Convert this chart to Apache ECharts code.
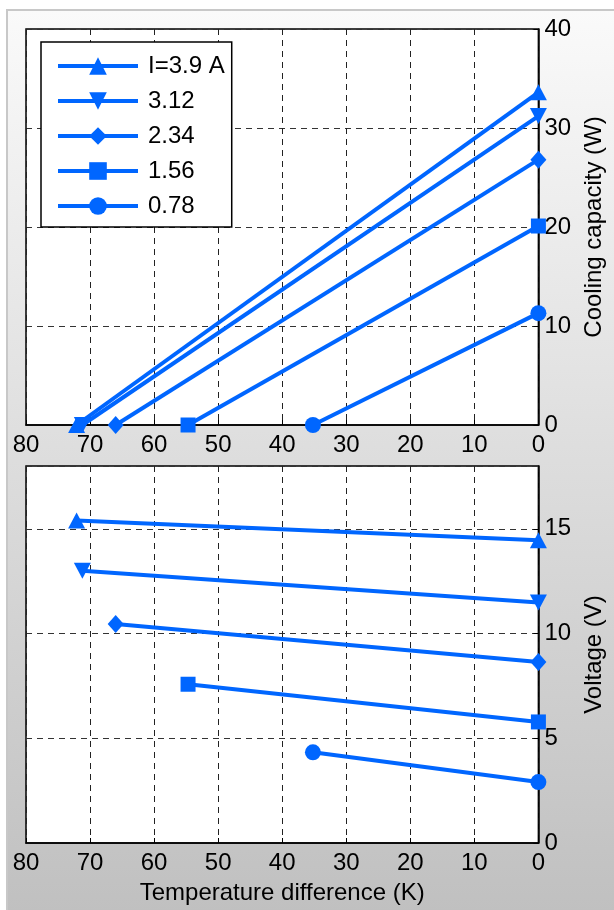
<!DOCTYPE html>
<html>
<head>
<meta charset="utf-8">
<script src="https://cdn.jsdelivr.net/npm/echarts@6/dist/echarts.min.js"></script>
<style>
  html, body { margin: 0; padding: 0; width: 614px; height: 910px; overflow: hidden; background: #ffffff; }
  #bg { position: absolute; left: 6px; top: 9px; width: 700px; height: 1000px;
        border-left: 2px solid #c8c8c8; border-top: 2px solid #c8c8c8;
        background: linear-gradient(to bottom, #fafafa 0px, #c0c0c0 901px, #c0c0c0 1000px); }
  #chart { position: absolute; left: 0; top: 0; width: 614px; height: 910px; }
</style>
</head>
<body>
<div id="bg"></div>
<div id="chart"></div>
<script>
// ---- data ----
const currents = ['I=3.9 A', '3.12', '2.34', '1.56', '0.78'];
const symbols = ['triangle', 'triangle', 'diamond', 'rect', 'circle'];
const symbolRotations = [0, 180, 0, 0, 0];
// temperature difference (K) at the zero-capacity end, and at the other end (0 K)
const dtAtZeroCapacity = [72.1, 71.2, 66.0, 54.7, 35.2];
const dtAtFullCapacity = [0, 0, 0, 0, 0];
// cooling capacity (W)
const coolingAtMaxDt = [0, 0, 0, 0, 0];
const coolingAtZeroDt = [33.6, 31.2, 26.8, 20.1, 11.3];
// voltage (V)
const voltageAtMaxDt = [15.4, 13.0, 10.46, 7.58, 4.33];
const voltageAtZeroDt = [14.45, 11.48, 8.64, 5.78, 2.91];
// axis ticks
const xTicks = { min: 0, max: 80, interval: 10 };
const coolTicks = { min: 0, max: 40, interval: 10 };
const voltTicks = { min: 0, max: 18, interval: 5 };

const BLUE = '#0066ff';
const FONT = "'Liberation Sans', Arial, sans-serif";
const FS = 24;

const symbolSizes = { triangle: [17, 16], diamond: [16, 18], rect: [15, 15], circle: [16, 16] };

function xAxisDef(gridIndex, withName) {
  return {
    type: 'value', gridIndex: gridIndex, inverse: true,
    min: xTicks.min, max: xTicks.max, interval: xTicks.interval,
    position: 'bottom',
    axisLine: { show: true, onZero: false, lineStyle: { color: '#000', width: 1.5 } },
    axisTick: { show: true, inside: true, length: 5, lineStyle: { color: '#000' } },
    axisLabel: { color: '#000', fontSize: FS, fontFamily: FONT, margin: 8 },
    splitLine: { show: true, lineStyle: { color: '#222', type: [6, 5], width: 1 } },
    name: withName ? 'Temperature difference (K)' : '',
    nameLocation: 'middle', nameGap: 38,
    nameTextStyle: { color: '#000', fontSize: FS, fontFamily: FONT }
  };
}
function yAxisDef(gridIndex, t, name, showMax) {
  return {
    type: 'value', gridIndex: gridIndex, position: 'right',
    min: t.min, max: t.max, interval: t.interval,
    axisLine: { show: true, onZero: false, lineStyle: { color: '#000', width: 1.5 } },
    axisTick: { show: true, inside: true, length: 5, lineStyle: { color: '#000' } },
    axisLabel: { color: '#000', fontSize: FS, fontFamily: FONT, margin: 6, showMaxLabel: showMax },
    splitLine: { show: true, lineStyle: { color: '#333', type: [6, 5], width: 1 } },
    name: name, nameLocation: 'middle', nameRotate: 90, nameGap: 42,
    nameTextStyle: { color: '#000', fontSize: FS, fontFamily: FONT }
  };
}

const series = [];
currents.forEach(function (c, i) {
  const sym = symbols[i];
  const common = {
    name: c, type: 'line', symbol: sym, symbolSize: symbolSizes[sym],
    symbolRotate: symbolRotations[i], showAllSymbol: true, clip: false,
    lineStyle: { color: BLUE, width: 4 }, itemStyle: { color: BLUE },
    emphasis: { disabled: true }, animation: false
  };
  series.push(Object.assign({}, common, {
    xAxisIndex: 0, yAxisIndex: 0,
    data: [[dtAtZeroCapacity[i], coolingAtMaxDt[i]], [dtAtFullCapacity[i], coolingAtZeroDt[i]]]
  }));
  series.push(Object.assign({}, common, {
    xAxisIndex: 1, yAxisIndex: 1,
    data: [[dtAtZeroCapacity[i], voltageAtMaxDt[i]], [dtAtFullCapacity[i], voltageAtZeroDt[i]]]
  }));
});

const chart = echarts.init(document.getElementById('chart'), null, { renderer: 'canvas' });
chart.setOption({
  backgroundColor: 'transparent',
  animation: false,
  grid: [
    { left: 26, right: 63, top: 29, height: 396, show: true, backgroundColor: '#fff', borderColor: '#000', borderWidth: 1.5 },
    { left: 26, right: 63, top: 466, height: 377, show: true, backgroundColor: '#fff', borderColor: '#000', borderWidth: 1.5 }
  ],
  xAxis: [xAxisDef(0, false), xAxisDef(1, true)],
  yAxis: [yAxisDef(0, coolTicks, 'Cooling capacity (W)', true), yAxisDef(1, voltTicks, 'Voltage (V)', false)],
  legend: {
    data: currents, orient: 'vertical', left: 41, top: 42,
    itemWidth: 80, itemHeight: 22, itemGap: 11,
    padding: [12, 7, 9, 15],
    backgroundColor: '#fff', borderColor: '#000', borderWidth: 1.5, borderRadius: 0,
    selectedMode: false,
    lineStyle: { width: 4, color: BLUE },
    textStyle: { color: '#000', fontSize: FS, fontFamily: FONT, padding: [0, 0, 0, 5] }
  },
  series: series
});
</script>
</body>
</html>
